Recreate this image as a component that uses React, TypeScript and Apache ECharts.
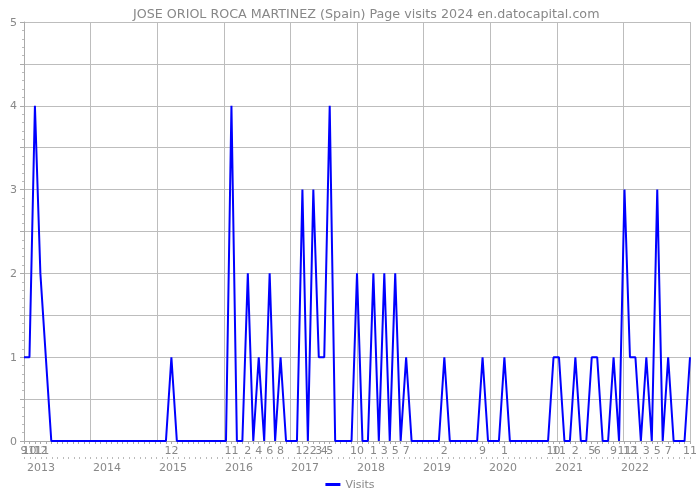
import React, { useEffect, useRef } from 'react';
import * as echarts from 'echarts';

const TITLE = 'JOSE ORIOL ROCA MARTINEZ (Spain) Page visits 2024 en.datocapital.com';
const SERIES_NAME = 'Visits';
const FIRST_YEAR = 2012;
const FIRST_MONTH = 9;

// monthly visits, Sep 2012 .. Nov 2022
const visits: number[] = [
  // 2012 Sep-Dec
  1, 1, 4, 2,
  // 2013
  1, 0, 0, 0, 0, 0, 0, 0, 0, 0, 0, 0,
  // 2014
  0, 0, 0, 0, 0, 0, 0, 0, 0, 0, 0, 1,
  // 2015
  0, 0, 0, 0, 0, 0, 0, 0, 0, 0, 4, 0,
  // 2016
  0, 2, 0, 1, 0, 2, 0, 1, 0, 0, 0, 3,
  // 2017
  0, 3, 1, 1, 4, 0, 0, 0, 0, 2, 0, 0,
  // 2018
  2, 0, 2, 0, 2, 0, 1, 0, 0, 0, 0, 0,
  // 2019
  0, 1, 0, 0, 0, 0, 0, 0, 1, 0, 0, 0,
  // 2020
  1, 0, 0, 0, 0, 0, 0, 0, 0, 1, 1, 0,
  // 2021
  0, 1, 0, 0, 1, 1, 0, 0, 1, 0, 3, 1,
  // 2022 Jan-Nov
  1, 0, 1, 0, 3, 0, 1, 0, 0, 0, 1,
];

const YEARS: number[] = [2013, 2014, 2015, 2016, 2017, 2018, 2019, 2020, 2021, 2022];
const Y_LABELS: number[] = [0, 1, 2, 3, 4, 5];

const months: { year: number; month: number }[] = visits.map((_, i) => {
  const t = FIRST_MONTH - 1 + i;
  return { year: FIRST_YEAR + Math.floor(t / 12), month: (t % 12) + 1 };
});
const categories = months.map((m) => `${m.year}-${m.month}`);

const FONT = 'DejaVu Sans';
const LABEL_COLOR = '#888';
const GRID_COLOR = '#bdbdbd';

export default function App() {
  const ref = useRef<HTMLDivElement>(null);
  useEffect(() => {
    if (!ref.current) return;
    const chart = echarts.init(ref.current, undefined, { renderer: 'svg' });
    chart.setOption({
      animation: false,
      textStyle: { fontFamily: FONT },
      title: {
        text: TITLE,
        left: 128,
        top: 2,
        textStyle: { fontFamily: FONT, fontSize: 12.7, fontWeight: 'normal', color: '#888' },
      },
      legend: {
        bottom: 5,
        left: 'center',
        icon: 'rect',
        itemWidth: 15,
        itemHeight: 3,
        itemGap: 6,
        textStyle: { fontFamily: FONT, fontSize: 11, color: LABEL_COLOR },
        data: [SERIES_NAME],
      },
      grid: { left: 24, right: 8, top: 22, bottom: 59, containLabel: false },
      xAxis: [
        {
          type: 'category',
          data: categories,
          boundaryGap: false,
          position: 'bottom',
          axisLine: { show: true, lineStyle: { color: '#aaa', width: 1 } },
          axisTick: { show: true, interval: 0, length: 3, lineStyle: { color: '#aaa' } },
          splitLine: { show: false },
          axisLabel: {
            interval: 0,
            margin: 4,
            fontFamily: FONT,
            fontSize: 11,
            color: LABEL_COLOR,
            formatter: (_v: string, i: number) => (visits[i] > 0 ? String(months[i].month) : ''),
          },
        },
        {
          type: 'value',
          min: 0,
          max: 10,
          interval: 1,
          position: 'bottom',
          axisLine: { show: false },
          axisTick: { show: false },
          axisLabel: { show: false },
          splitLine: { show: true, lineStyle: { color: GRID_COLOR, width: 1 } },
        },
        {
          type: 'value',
          min: 2012.743,
          max: 2022.834,
          splitNumber: 10,
          position: 'bottom',
          offset: 16,
          axisLine: { show: false },
          axisTick: { show: true, length: 2, lineStyle: { color: '#bbb' } },
          minorTick: { show: true, splitNumber: 12, length: 2, lineStyle: { color: '#bbb' } },
          splitLine: { show: false },
          axisLabel: {
            showMinLabel: false,
            showMaxLabel: false,
            margin: 5,
            fontFamily: FONT,
            fontSize: 11,
            color: LABEL_COLOR,
            formatter: (v: number) => (YEARS.includes(Math.round(v)) && Math.abs(v - Math.round(v)) < 1e-6 ? String(Math.round(v)) : ''),
          },
        },
      ],
      yAxis: {
        type: 'value',
        min: 0,
        max: 5,
        interval: 0.5,
        axisLine: { show: true, lineStyle: { color: '#aaa' } },
        axisTick: { show: true, length: 4, lineStyle: { color: '#aaa' } },
        minorTick: { show: true, splitNumber: 5, length: 2, lineStyle: { color: '#bbb' } },
        splitLine: { show: true, lineStyle: { color: GRID_COLOR, width: 1 } },
        axisLabel: {
          margin: 7,
          fontFamily: FONT,
          fontSize: 11,
          color: LABEL_COLOR,
          formatter: (v: number) => (Y_LABELS.includes(v) ? String(v) : ''),
        },
      },
      series: [
        {
          name: SERIES_NAME,
          type: 'line',
          xAxisIndex: 0,
          data: visits,
          symbol: 'none',
          lineStyle: { color: '#0000ff', width: 2 },
          itemStyle: { color: '#0000ff' },
        },
      ],
    });
    return () => chart.dispose();
  }, []);
  return <div ref={ref} style={{ position: 'fixed', left: 0, top: 0, width: 700, height: 500 }} />;
}
